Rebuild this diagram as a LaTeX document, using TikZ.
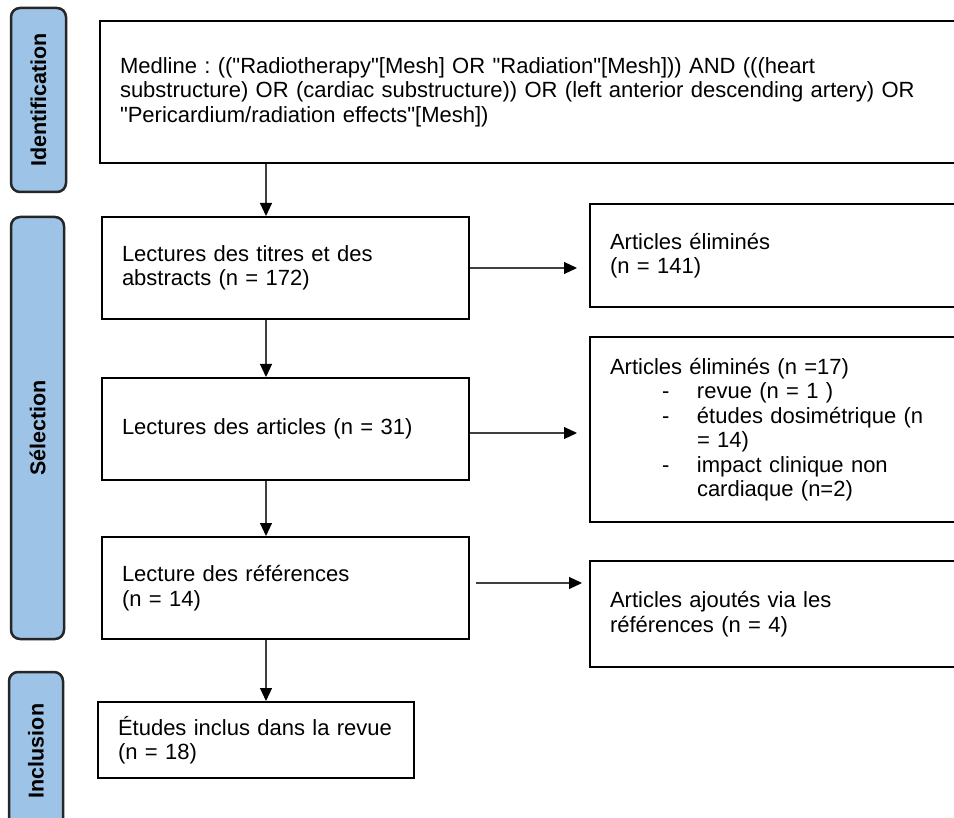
\documentclass[tikz,border=0pt]{standalone}
\usepackage{fontspec}
\setmainfont{Liberation Sans}[Ligatures=TeXOff]
\usetikzlibrary{arrows.meta,positioning}
\definecolor{phaseblue}{RGB}{157,195,230}
\newcommand{\dashitem}{\makebox[87pt][l]{\hspace*{52pt}-}}
\frenchspacing

\begin{document}
\begin{tikzpicture}[x=1pt,y=-1pt,
          box/.style={draw,line width=2pt,rectangle,align=left,inner xsep=20pt,inner ysep=0pt,font=\fontsize{22}{24.5}\selectfont},
          phase/.style={draw=black!85,line width=2.5pt,fill=phaseblue,rounded corners=9pt,rotate=90,inner sep=0pt,font=\fontsize{21.5}{24}\selectfont\bfseries},
          arr/.style={line width=1.1pt,draw=black!75,-{Triangle[length=13pt,width=12pt,color=black]}}]
        \useasboundingbox (0,0) rectangle (954,818);
        % phases
        \node[phase,minimum width=184pt,minimum height=55pt] (ident) at (38.5,100) {Identification};
        \node[phase,minimum width=422pt,minimum height=53pt] (sel)   at (37.5,428) {Sélection};
        \node[phase,minimum width=158pt,minimum height=54pt] (inc)   at (36,751)   {Inclusion};
        % main column
        \node[box,minimum height=142pt,text width=830pt] (med) at (535,92)
          {Medline : (("Radiotherapy"[Mesh] OR "Radiation"[Mesh])) AND (((heart\\
           substructure) OR (cardiac substructure)) OR (left anterior descending artery) OR\\
           "Pericardium/radiation effects"[Mesh])};
        \node[box,minimum height=102pt,text width=327pt] (tit)  at (285.5,268) {Lectures des titres et des\\abstracts (n = 172)};
        \node[box,minimum height=102pt,text width=327pt] (art)  at (285.5,429) {Lectures des articles (n = 31)};
        \node[box,minimum height=102pt,text width=327pt] (ref)  at (285.5,588) {Lecture des références\\(n = 14)};
        \node[box,minimum height=76pt,text width=276pt]  (incl) at (256,740)   {Études inclus dans la revue\\(n = 18)};
        % side column
        \node[box,minimum height=103pt,text width=340pt] (elim1) at (780,255.5) {Articles éliminés\\(n = 141)};
        \node[box,minimum height=185pt,text width=340pt] (elim2) at (780,429.5)
          {Articles éliminés (n =17)\\
           \dashitem revue (n = 1 )\\
           \dashitem études dosimétrique (n\\
           \hspace*{87pt}= 14)\\
           \dashitem impact clinique non\\
           \hspace*{87pt}cardiaque (n=2)};
        \node[box,minimum height=106pt,text width=340pt] (ajout) at (780,614) {Articles ajoutés via les\\références (n = 4)};
        % connectors
        \coordinate (spine) at (266,0);
        \draw[arr] (med.south -| spine) -- (tit.north -| spine);
        \draw[arr] (tit.south -| spine) -- (art.north -| spine);
        \draw[arr] (art.south -| spine) -- (ref.north -| spine);
        \draw[arr] (ref.south -| spine) -- (incl.north -| spine);
        \draw[arr,shorten >=12pt] (tit.east) -- (tit.east -| elim1.west);
        \draw[arr,shorten >=12pt] ([yshift=-4pt]art.east) -- ([yshift=-4pt]art.east -| elim2.west);
        \draw[arr,shorten <=6pt,shorten >=7pt] ([yshift=5pt]ref.east) -- ([yshift=5pt]ref.east -| ajout.west);
      \end{tikzpicture}
\end{document}
